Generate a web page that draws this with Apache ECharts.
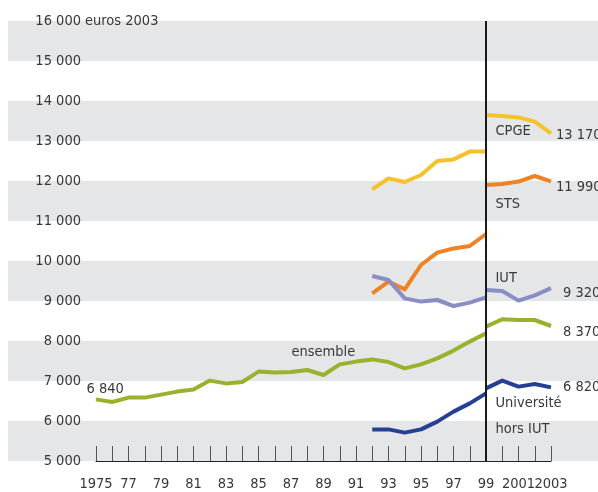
<!DOCTYPE html>
<html>
<head>
<meta charset="utf-8">
<script src="https://cdn.jsdelivr.net/npm/echarts@6/dist/echarts.min.js"></script>
<style>
html,body{margin:0;padding:0;background:#fff;}
#chart{width:598px;height:492px;}
</style>
</head>
<body>
<div id="chart"></div>
<script>
// ---------- data ----------
const years = [1975,1976,1977,1978,1979,1980,1981,1982,1983,1984,1985,1986,1987,1988,1989,1990,1991,1992,1993,1994,1995,1996,1997,1998,1999,2000,2001,2002,2003];
const xTickLabels = ['1975','','77','','79','','81','','83','','85','','87','','89','','91','','93','','95','','97','','99','','2001','','2003'];
const yTicks = [5000,6000,7000,8000,9000,10000,11000,12000,13000,14000,15000,16000];
const yUnit = 'euros 2003';

// ensemble: 1975..1999 (old series), 1999..2003 (new series)
const ensembleBefore = [6540,6475,6585,6585,6660,6735,6790,7010,6940,6975,7235,7210,7225,7275,7150,7415,7485,7540,7475,7315,7415,7565,7760,7985,8190];
const ensembleAfter = [8360,8545,8525,8525,8375];
// 1992..1999 and 1999..2003
const univBefore = [5790,5790,5710,5790,5985,6235,6440,6690];
const univAfter = [6815,7010,6860,6925,6840];
const iutBefore = [9625,9525,9065,8985,9025,8875,8960,9090];
const iutAfter = [9275,9250,9010,9140,9320];
const stsBefore = [9190,9485,9290,9900,10210,10315,10375,10675];
const stsAfter = [11900,11925,11985,12125,11990];
const cpgeBefore = [11790,12065,11975,12150,12500,12540,12735,12735];
const cpgeAfter = [13650,13625,13590,13485,13190];

const endLabels = { cpge:'13 170', sts:'11 990', iut:'9 320', ensemble:'8 370', univ:'6 820' };
const startLabel = '6 840';
const names = { cpge:'CPGE', sts:'STS', iut:'IUT', ensemble:'ensemble', univ:'Université\nhors IUT' };
const breakYear = '1999';

// ---------- helpers ----------
const cats = years.map(String);
function place(values, startYear) {
  const out = years.map(() => null);
  const i0 = years.indexOf(startYear);
  values.forEach((v, k) => { out[i0 + k] = v; });
  return out;
}
function fmt(v) { return String(v).replace(/\B(?=(\d{3})+(?!\d))/g, ' '); }

const FONT = "'DejaVu Sans Condensed', 'DejaVu Sans', sans-serif";
const TXT = '#383838';
const FS = 14.5;

const C = {
  cpge: '#f4c22b',
  sts: '#ee8325',
  iut: '#8a8cc4',
  ensemble: '#98b22e',
  univ: '#263f94'
};

function withLabel(arr, year, text, pos, extra) {
  const i = years.indexOf(year);
  arr[i] = {
    value: arr[i],
    label: Object.assign({
      show: true, formatter: text, position: pos,
      align: 'left', verticalAlign: 'middle',
      color: TXT, fontSize: FS, fontFamily: FONT
    }, extra || {})
  };
  return arr;
}

function lineSeries(data, color, endText, endOffset, extra) {
  const s = {
    type: 'line', xAxisIndex: 0, yAxisIndex: 0,
    data: data, connectNulls: false,
    showSymbol: true, symbol: 'circle', symbolSize: 1,
    itemStyle: { color: 'rgba(0,0,0,0)' },
    lineStyle: { color: color, width: 4, join: 'round' },
    emphasis: { disabled: true },
    animation: false, z: 3
  };
  if (endText) {
    s.endLabel = {
      show: true, formatter: endText, distance: 0, offset: endOffset,
      color: TXT, fontSize: FS, fontFamily: FONT, align: 'left', verticalAlign: 'middle'
    };
  }
  return Object.assign(s, extra || {});
}

// build series data
const ensB = withLabel(place(ensembleBefore, 1975), 1975, startLabel, [-9, -10]);
withLabel(ensB, 1987, names.ensemble, [1, -19]);
const ensA = place(ensembleAfter, 1999);
const uniB = place(univBefore, 1992);
const uniA = withLabel(place(univAfter, 1999), 1999, names.univ, [10, 2], { verticalAlign: 'top', lineHeight: 26 });
const iutB = place(iutBefore, 1992);
const iutA = withLabel(place(iutAfter, 1999), 1999, names.iut, [10, -11]);
const stsB = place(stsBefore, 1992);
const stsA = withLabel(place(stsAfter, 1999), 1999, names.sts, [10, 20]);
const cpgB = place(cpgeBefore, 1992);
const cpgA = withLabel(place(cpgeAfter, 1999), 1999, names.cpge, [10, 17]);

const chart = echarts.init(document.getElementById('chart'), null, { renderer: 'canvas' });

const Y_LABEL_MARGIN = 15;
const GRID_LEFT = 96;

const option = {
  backgroundColor: '#ffffff',
  animation: false,
  textStyle: { fontFamily: FONT },
  grid: [
    { left: GRID_LEFT, right: 47, top: 21, bottom: 31, containLabel: false },
    { left: 8, right: 0, top: 21, bottom: 31, containLabel: false }
  ],
  xAxis: [
    {
      type: 'category', gridIndex: 0, data: cats, boundaryGap: false,
      axisLine: { show: true, lineStyle: { color: '#222', width: 1 } },
      axisTick: { show: true, inside: true, length: 15, interval: 0, lineStyle: { color: '#555', width: 1 } },
      axisLabel: {
        interval: 0, margin: 16, color: TXT, fontSize: FS, fontFamily: FONT,
        formatter: (v, i) => xTickLabels[i]
      },
      splitLine: { show: false }
    },
    { type: 'value', gridIndex: 1, min: 0, max: 1, show: false }
  ],
  yAxis: [
    {
      type: 'value', gridIndex: 0, min: yTicks[0], max: yTicks[yTicks.length - 1], interval: 1000,
      axisLine: { show: false }, axisTick: { show: false }, splitLine: { show: false },
      axisLabel: {
        margin: Y_LABEL_MARGIN, color: TXT, fontSize: FS, fontFamily: FONT,
        formatter: v => fmt(v)
      }
    },
    {
      type: 'value', gridIndex: 1, min: yTicks[0], max: yTicks[yTicks.length - 1], interval: 1000,
      axisLine: { show: false }, axisTick: { show: false }, axisLabel: { show: false },
      splitLine: { show: false },
      splitArea: { show: true, areaStyle: { color: ['#e5e6e8', 'rgba(255,255,255,0)'] } }
    }
  ],
  series: [
    lineSeries(ensB, C.ensemble, null, null, {
      markLine: {
        silent: true, symbol: ['none', 'none'], animation: false,
        label: { show: false },
        lineStyle: { color: '#1a1a1a', width: 2, type: 'solid' },
        emphasis: { disabled: true },
        data: [{ xAxis: breakYear }]
      }
    }),
    lineSeries(ensA, C.ensemble, endLabels.ensemble, [12, 6]),
    lineSeries(uniB, C.univ, null, null),
    lineSeries(uniA, C.univ, endLabels.univ, [12, 0]),
    lineSeries(stsB, C.sts, null, null),
    lineSeries(iutB, C.iut, null, null),
    lineSeries(stsA, C.sts, endLabels.sts, [5, 6]),
    lineSeries(iutA, C.iut, endLabels.iut, [12, 5]),
    lineSeries(cpgB, C.cpge, null, null),
    lineSeries(cpgA, C.cpge, endLabels.cpge, [5, 2])
  ]
};
chart.setOption(option);

// unit text placed right after the top tick label, using the axis scale
const topY = chart.convertToPixel({ yAxisIndex: 0 }, yTicks[yTicks.length - 1]);
chart.setOption({
  graphic: [{
    type: 'text', silent: true, z: 10,
    x: GRID_LEFT - Y_LABEL_MARGIN + 4, y: topY,
    style: { text: yUnit, fill: TXT, fontSize: FS, fontFamily: FONT, align: 'left', verticalAlign: 'middle' }
  }]
});
</script>
</body>
</html>
